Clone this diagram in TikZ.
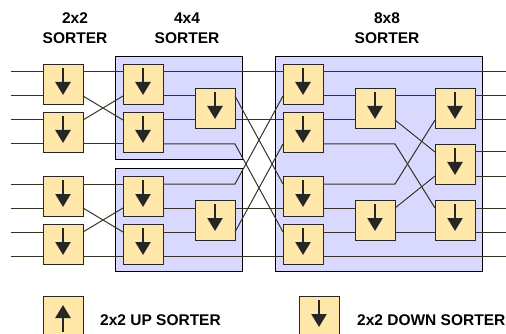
\documentclass[tikz,border=0pt]{standalone}
\usepackage{fontspec}
\setmainfont{Liberation Sans}
\usetikzlibrary{arrows.meta,fit,backgrounds}
\definecolor{boxfill}{RGB}{255,231,170}
\definecolor{grpfill}{RGB}{217,217,255}
\definecolor{wirecol}{RGB}{58,50,38}

\begin{document}
\begin{tikzpicture}[
    x=1pt, y=-1pt,
    sorter/.style={
        draw=black!85,
        line width=0.9pt,
        fill=boxfill,
        minimum width=40pt,
        minimum height=40pt,
        inner sep=0pt,
        outer sep=0pt
    },
    dsort/.style={sorter, path picture={
        \draw[line width=2.4pt, -{Triangle[width=15pt,length=13pt]}]
            ([yshift=16pt]path picture bounding box.center) --
            ([yshift=-11pt]path picture bounding box.center);}},
    usort/.style={sorter, path picture={
        \draw[line width=2.4pt, -{Triangle[width=15pt,length=13pt]}]
            ([yshift=-16pt]path picture bounding box.center) --
            ([yshift=11pt]path picture bounding box.center);}},
    grp/.style={draw=black, line width=0.9pt, fill=grpfill, inner sep=7.5pt},
    wire/.style={draw=wirecol, line width=1pt},
    hi/.style={yshift=12pt},
    lo/.style={yshift=-12pt},
    ttl/.style={font=\fontsize{15.5}{20}\selectfont\bfseries, align=center, inner sep=0pt},
    lgd/.style={font=\fontsize{15.5}{18}\selectfont\bfseries, inner sep=0pt, anchor=base west}
]
    \useasboundingbox (0,0) rectangle (506,334);

    \node[ttl] (t2) at (75,28) {2x2\\SORTER};
    \node[ttl] (t4) at (187,28) {4x4\\SORTER};
    \node[ttl] (t8) at (387,28) {8x8\\SORTER};

    \coordinate (inL) at (11,0);
    \coordinate (outR) at (506,0);

    % 2x2 column
    \node[dsort] (a1) at (63,84) {};
    \node[dsort] (a2) at (63,132) {};
    \node[dsort] (a3) at (63,196) {};
    \node[dsort] (a4) at (63,244) {};

    % 4x4 sorters
    \node[dsort] (b1) at (143,84) {};
    \node[dsort] (b2) at (143,132) {};
    \node[dsort] (b3) at (143,196) {};
    \node[dsort] (b4) at (143,244) {};
    \node[dsort] (c1) at (215,108) {};
    \node[dsort] (c2) at (215,220) {};

    % 8x8 sorter
    \node[dsort] (d1) at (303,84) {};
    \node[dsort] (d2) at (303,132) {};
    \node[dsort] (d3) at (303,196) {};
    \node[dsort] (d4) at (303,244) {};
    \node[dsort] (e1) at (375,108) {};
    \node[dsort] (e2) at (375,220) {};
    \node[dsort] (f1) at (455,108) {};
    \node[dsort] (f2) at (455,164) {};
    \node[dsort] (f3) at (455,220) {};

    \begin{scope}[on background layer]
        \node[grp, fit=(b1)(b2)(c1)] (q4a) {};
        \node[grp, fit=(b3)(b4)(c2)] (q4b) {};
        \node[grp, fit=(d1)(d4)(f1)(f3)] (q8) {};
    \end{scope}

    \foreach \n in {a1,a2,a3,a4} {
        \draw[wire] ([hi]\n.west) -- ([hi]\n.west -| inL);
        \draw[wire] ([lo]\n.west) -- ([lo]\n.west -| inL);
    }

    \draw[wire] ([hi]a1.east) -- ([hi]b1.west);
    \draw[wire] ([lo]a1.east) -- ([hi]b2.west);
    \draw[wire] ([hi]a2.east) -- ([lo]b1.west);
    \draw[wire] ([lo]a2.east) -- ([lo]b2.west);
    \draw[wire] ([hi]a3.east) -- ([hi]b3.west);
    \draw[wire] ([lo]a3.east) -- ([hi]b4.west);
    \draw[wire] ([hi]a4.east) -- ([lo]b3.west);
    \draw[wire] ([lo]a4.east) -- ([lo]b4.west);

    \draw[wire] ([lo]b1.east) -- ([hi]c1.west);
    \draw[wire] ([hi]b2.east) -- ([lo]c1.west);
    \draw[wire] ([lo]b3.east) -- ([hi]c2.west);
    \draw[wire] ([hi]b4.east) -- ([lo]c2.west);

    \draw[wire] ([hi]b1.east) -- ([hi]d1.west);
    \draw[wire] ([hi]c1.east) -- ([hi]d3.west);
    \draw[wire] ([lo]c1.east) -- ([hi]d2.west);
    \draw[wire] ([lo]b2.east) -- ([lo]b2.east -| c1.east) -- ([hi]d4.west);
    \draw[wire] ([hi]b3.east) -- ([hi]b3.east -| c2.east) -- ([lo]d1.west);
    \draw[wire] ([hi]c2.east) -- ([lo]d3.west);
    \draw[wire] ([lo]c2.east) -- ([lo]d2.west);
    \draw[wire] ([lo]b4.east) -- ([lo]d4.west);

    \draw[wire] ([lo]d1.east) -- ([hi]e1.west);
    \draw[wire] ([hi]d2.east) -- ([lo]e1.west);
    \draw[wire] ([lo]d3.east) -- ([hi]e2.west);
    \draw[wire] ([hi]d4.east) -- ([lo]e2.west);

    \draw[wire] ([hi]e1.east) -- ([hi]f1.west);
    \draw[wire] ([lo]e1.east) -- ([hi]f2.west);
    \draw[wire] ([lo]d2.east) -- ([lo]d2.east -| e1.east) -- ([hi]f3.west);
    \draw[wire] ([hi]d3.east) -- ([hi]d3.east -| e2.east) -- ([lo]f1.west);
    \draw[wire] ([hi]e2.east) -- ([lo]f2.west);
    \draw[wire] ([lo]e2.east) -- ([lo]f3.west);

    \draw[wire] ([hi]d1.east) -- ([hi]d1.east -| outR);
    \draw[wire] ([lo]d4.east) -- ([lo]d4.east -| outR);
    \foreach \n in {f1,f2,f3} {
        \draw[wire] ([hi]\n.east) -- ([hi]\n.east -| outR);
        \draw[wire] ([lo]\n.east) -- ([lo]\n.east -| outR);
    }

    % legend
    \node[usort] (lu) at (63,316) {};
    \node[lgd] (lut) at (100,325) {2x2 UP SORTER};
    \node[dsort] (ld) at (319,316) {};
    \node[lgd] (ldt) at (357,325) {2x2 DOWN SORTER};
\end{tikzpicture}
\end{document}
